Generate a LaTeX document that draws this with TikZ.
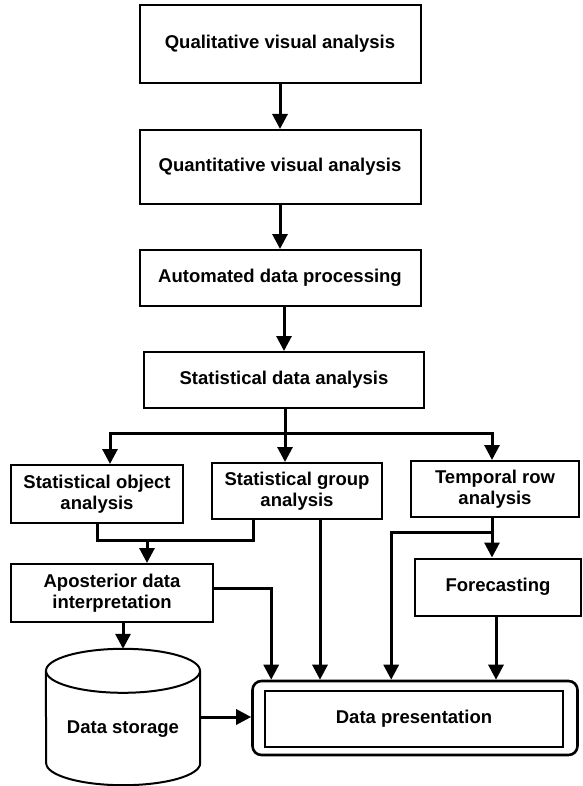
\documentclass[tikz,border=0pt]{standalone}
\usepackage{fontspec}
\setmainfont{Liberation Sans}
\usetikzlibrary{arrows.meta}

\begin{document}
\begin{tikzpicture}[
  x=1pt, y=-1pt,
  >={Triangle[length=15pt,width=15pt]},
  every node/.style={font=\fontsize{18.5}{21}\selectfont\bfseries, align=center, inner sep=0pt},
  box/.style={draw, line width=2pt, fill=white},
  link/.style={line width=3pt}
]
\useasboundingbox (0,0) rectangle (582,786);

% ============================================================
% Visual analysis and processing chain
% ============================================================
\node[box, minimum width=281pt, minimum height=78pt] (qual) at (280,44) {Qualitative visual analysis};
\node[box, minimum width=281pt, minimum height=74pt] (quant) at (280,167) {Quantitative visual analysis};
\node[box, minimum width=281pt, minimum height=56pt] (auto) at (280,278) {Automated data processing};
\node[box, minimum width=280pt, minimum height=56pt] (stat) at (284,380) {Statistical data analysis};

\draw[link, ->] (qual.south) -- (quant.north);
\draw[link, ->] (quant.south) -- (auto.north);
\draw[link, ->] (auto.south -| stat.north) -- (stat.north);

% ============================================================
% Three kinds of statistical analysis
% ============================================================
\node[box, minimum width=172pt, minimum height=58pt] (obj) at (97,494) {Statistical object\\analysis};
\node[box, minimum width=170pt, minimum height=56pt] (grp) at (297,491) {Statistical group\\analysis};
\node[box, minimum width=168pt, minimum height=56pt] (temp) at (495,489) {Temporal row\\analysis};

\coordinate (hub) at (285,433);
\draw[link] (stat.south -| hub) -- (hub);
\draw[link, ->] (hub) -| ([xshift=13pt]obj.north);
\draw[link, ->] (hub) -- (hub |- grp.north);
\draw[link, ->] (hub) -| ([xshift=-3pt]temp.north);

% ============================================================
% Interpretation, forecasting and storage
% ============================================================
\node[box, minimum width=202pt, minimum height=58pt] (apost) at (112,593) {Aposterior data\\interpretation};
\node[box, minimum width=166pt, minimum height=57pt] (fore) at (498,587) {Forecasting};

% merge of object and group analysis
\coordinate (mleft) at (97,540);
\coordinate (mright) at (253,540);
\coordinate (merge) at (147,540);
\draw[link] (obj.south) -- (mleft) -- (mright) -- (mright |- grp.south);
\draw[link, ->] (merge) -- (merge |- apost.north);

% temporal row -> forecasting, with branch to presentation
\coordinate (tsplit) at (492,532);
\draw[link, ->] ([xshift=-3pt]temp.south) -- (tsplit) -- (tsplit |- fore.north);

% data storage (cylinder)
\node[minimum width=154pt, minimum height=136pt] (store) at (123,717) {};
\node (storelbl) at ([yshift=-12pt]store.center) {Data storage};
\draw[line width=2pt] ([yshift=-22pt]store.north) ellipse [x radius=77, y radius=22];
\draw[line width=2pt] ([yshift=-22pt]store.north east) -- ([yshift=22pt]store.south east)
  arc [start angle=0, end angle=180, x radius=77, y radius=22] -- ([yshift=-22pt]store.north west);

\draw[link, ->] (store.north |- apost.south) -- (store.north);

% ============================================================
% Data presentation (double frame)
% ============================================================
\node[draw, line width=2.6pt, rounded corners=9pt, minimum width=325pt, minimum height=74pt] (pres) at (415,718) {};
\node[box, minimum width=298pt, minimum height=56pt] (presin) at (414,719) {Data presentation};

\draw[link, ->] (apost.east |- 0,588) -| ([xshift=20pt]pres.north west);
\draw[link, ->] ([xshift=23pt]grp.south) -- ([xshift=23pt]grp.south |- pres.north);
\draw[link, ->] (tsplit) -| ([xshift=140pt]pres.north west);
\draw[link, ->] ([xshift=-2pt]fore.south) -- ([xshift=-2pt]fore.south |- pres.north);
\draw[link, ->] (store.east) -- (store.east -| pres.west);

\end{tikzpicture}
\end{document}
